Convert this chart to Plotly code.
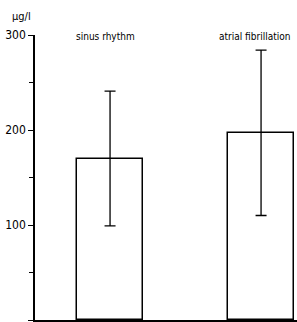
import plotly.graph_objects as go

categories = ["sinus rhythm", "atrial fibrillation"]
means = [170, 197]
errors = [71, 87]
y_ticks = [0, 100, 200, 300]
minor_step = 50
unit_label = "μg/l"

x_pos = list(range(len(categories)))
label_shift = [-4.5, -7]
FONT = "DejaVu Sans Condensed, Liberation Sans Narrow, Arial Narrow, sans-serif"

fig = go.Figure()
fig.add_trace(go.Bar(
    x=x_pos, y=means, width=0.44,
    marker=dict(color="white", line=dict(color="black", width=1.5)),
    error_y=dict(type="data", array=errors, visible=True, color="black",
                 thickness=1.3, width=5.5),
    showlegend=False, hoverinfo="skip",
))

for xi, name, sh in zip(x_pos, categories, label_shift):
    fig.add_annotation(x=xi, xref="x", xshift=sh, y=1, yref="paper",
                       yanchor="middle", yshift=-1, text=name, showarrow=False,
                       font=dict(family=FONT, size=10, color="black"))

fig.add_annotation(x=0, xref="paper", xanchor="center", xshift=-14,
                   y=1, yref="paper", yanchor="middle", yshift=19,
                   text=unit_label, showarrow=False,
                   font=dict(family=FONT, size=11, color="black"))

fig.update_layout(
    width=297, height=322,
    margin=dict(l=35, r=0, t=35, b=2, autoexpand=False),
    paper_bgcolor="white", plot_bgcolor="white",
    bargap=0,
    xaxis=dict(range=[-0.497, 1.238], showticklabels=False, ticks="",
               showgrid=False, zeroline=False, showline=True,
               linecolor="black", linewidth=1.5),
    yaxis=dict(range=[0, 300], tickvals=y_ticks, ticktext=[str(v) for v in y_ticks],
               ticks="outside", ticklen=5, tickwidth=1.3, tickcolor="black",
               minor=dict(tick0=0, dtick=minor_step, ticks="outside", ticklen=4,
                          tickwidth=1.2, tickcolor="black", showgrid=False),
               showgrid=False, zeroline=False, showline=True,
               linecolor="black", linewidth=1.5,
               tickfont=dict(family=FONT, size=12, color="black")),
)

fig.write_html("out.html", config={"displayModeBar": False},
               post_script="document.body.style.margin='0';")
